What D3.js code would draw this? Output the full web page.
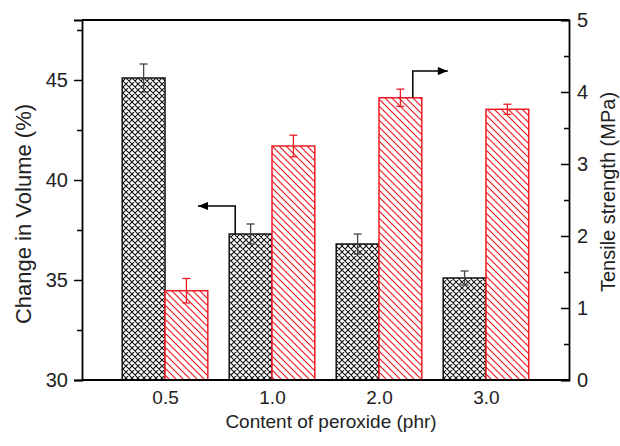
<!DOCTYPE html>
<html>
<head>
<meta charset="utf-8">
<script src="https://cdn.jsdelivr.net/npm/d3@7"></script>
<style>
  html, body { margin: 0; padding: 0; background: #fff; }
  svg { display: block; font-family: "Liberation Sans", Arial, sans-serif; }
</style>
</head>
<body>
<svg id="chart" width="620" height="446"></svg>
<script>
const categories = ["0.5", "1.0", "2.0", "3.0"];
const volume = [45.1, 37.3, 36.8, 35.1];
const volumeErr = [0.7, 0.5, 0.5, 0.35];
const tensile = [1.24, 3.25, 3.92, 3.76];
const tensileErr = [0.17, 0.15, 0.12, 0.07];
const leftTicks = [30, 35, 40, 45];
const leftMinor = [32.5, 37.5, 42.5, 47.5];
const rightTicks = [0, 1, 2, 3, 4, 5];
const rightMinor = [0.5, 1.5, 2.5, 3.5, 4.5];

const svg = d3.select("#chart");
const L = 82, R = 569, T = 20, B = 380;
const RED = "#ee1c24";

const x = d3.scalePoint().domain(categories).range([L, R]).padding(0.776);
const bw = x.step() * 0.4;
const yL = d3.scaleLinear().domain([30, 48]).range([B, T]);
const yR = d3.scaleLinear().domain([0, 5]).range([B, T]);

// patterns
const defs = svg.append("defs");
const cross = defs.append("pattern").attr("id", "cross")
  .attr("patternUnits", "userSpaceOnUse").attr("width", 6).attr("height", 6);
cross.append("rect").attr("width", 6).attr("height", 6).attr("fill", "#fff");
cross.append("path").attr("d", "M-1,-1 L7,7 M-1,5 L1,7 M5,-1 L7,1 M-1,7 L7,-1 M-1,1 L1,-1 M5,7 L7,5")
  .attr("stroke", "#111").attr("stroke-width", 1.1).attr("fill", "none");
const hatch = defs.append("pattern").attr("id", "hatch")
  .attr("patternUnits", "userSpaceOnUse").attr("width", 7).attr("height", 7);
hatch.append("rect").attr("width", 7).attr("height", 7).attr("fill", "#fff");
hatch.append("path").attr("d", "M-1,-1 L8,8 M-1,6 L1,8 M6,-1 L8,1")
  .attr("stroke", RED).attr("stroke-width", 1.2).attr("fill", "none");
defs.append("marker").attr("id", "arrow").attr("viewBox", "0 0 10 8")
  .attr("refX", 10).attr("refY", 4).attr("markerWidth", 11).attr("markerHeight", 8)
  .attr("markerUnits", "userSpaceOnUse").attr("orient", "auto")
  .append("path").attr("d", "M0,0 L10,4 L0,8 Z").attr("fill", "#000");

// bars
svg.selectAll(".vbar").data(volume).join("rect").attr("class", "vbar")
  .attr("x", (d, i) => x(categories[i]) - bw).attr("width", bw)
  .attr("y", d => yL(d)).attr("height", d => B - yL(d))
  .attr("fill", "url(#cross)").attr("stroke", "#111").attr("stroke-width", 1.5);
svg.selectAll(".tbar").data(tensile).join("rect").attr("class", "tbar")
  .attr("x", (d, i) => x(categories[i])).attr("width", bw)
  .attr("y", d => yR(d)).attr("height", d => B - yR(d))
  .attr("fill", "url(#hatch)").attr("stroke", RED).attr("stroke-width", 1.5);

// error bars
function errBars(vals, errs, ys, cx, color) {
  const g = svg.append("g").attr("stroke", color).attr("stroke-width", 1.3).attr("fill", "none");
  vals.forEach((v, i) => {
    const xc = cx(i);
    const y1 = ys(v + errs[i]), y0 = ys(v - errs[i]);
    g.append("line").attr("x1", xc).attr("x2", xc).attr("y1", y1).attr("y2", y0);
    g.append("line").attr("x1", xc - 4).attr("x2", xc + 4).attr("y1", y1).attr("y2", y1);
    g.append("line").attr("x1", xc - 4).attr("x2", xc + 4).attr("y1", y0).attr("y2", y0);
  });
}
errBars(volume, volumeErr, yL, i => x(categories[i]) - bw / 2, "#444");
errBars(tensile, tensileErr, yR, i => x(categories[i]) + bw / 2, RED);

// axes
svg.append("g").attr("transform", `translate(${L},0)`)
  .call(d3.axisLeft(yL).tickValues(leftTicks).tickSize(8).tickPadding(6));
svg.append("g").attr("transform", `translate(${L},0)`)
  .call(d3.axisLeft(yL).tickValues(leftMinor).tickSize(5).tickFormat(""))
  .select(".domain").remove();
svg.append("g").attr("transform", `translate(${R},0)`)
  .call(d3.axisRight(yR).tickValues(rightTicks).tickSize(-8).tickPadding(8).tickFormat(d3.format("d")));
svg.append("g").attr("transform", `translate(${R},0)`)
  .call(d3.axisRight(yR).tickValues(rightMinor).tickSize(-5).tickFormat(""))
  .select(".domain").remove();
const axB = svg.append("g").attr("class", "xaxis").attr("transform", `translate(0,${B})`)
  .call(d3.axisBottom(x).tickSize(0).tickPadding(11));
svg.selectAll(".domain").attr("stroke", "#000").attr("stroke-width", 1.8);
svg.selectAll(".tick line").attr("stroke", "#000").attr("stroke-width", 1.5);
svg.selectAll(".tick text").attr("font-size", 20).attr("fill", "#222")
  .attr("font-family", "Liberation Sans, Arial, sans-serif");
axB.selectAll(".tick text").attr("font-size", 19);
axB.select(".domain").attr("d", `M${L},0H${R}`);
// top frame
svg.append("line").attr("x1", L).attr("x2", R).attr("y1", T).attr("y2", T)
  .attr("stroke", "#000").attr("stroke-width", 1.8);

// arrows
const ax1 = x(categories[1]) - bw + 6;
svg.append("path")
  .attr("d", `M${ax1},${yL(volume[1])} V${yL(38.7)} H${x(categories[0]) + 33}`)
  .attr("fill", "none").attr("stroke", "#000").attr("stroke-width", 1.5)
  .attr("marker-end", "url(#arrow)");
const ax2 = x(categories[2]) + bw - 9;
svg.append("path")
  .attr("d", `M${ax2},${yR(tensile[2])} V${yR(4.29)} H${x(categories[2]) + bw + 26}`)
  .attr("fill", "none").attr("stroke", "#000").attr("stroke-width", 1.5)
  .attr("marker-end", "url(#arrow)");

// titles
svg.append("text").attr("transform", `translate(31,214) rotate(-90)`)
  .attr("text-anchor", "middle").attr("font-size", 22).attr("fill", "#222")
  .text("Change in Volume (%)");
svg.append("text").attr("transform", `translate(615,192) rotate(-90)`)
  .attr("text-anchor", "middle").attr("font-size", 20).attr("fill", "#222")
  .text("Tensile strength (MPa)");
svg.append("text").attr("x", 331).attr("y", 428)
  .attr("text-anchor", "middle").attr("font-size", 19).attr("fill", "#222")
  .text("Content of peroxide (phr)");
</script>
</body>
</html>
